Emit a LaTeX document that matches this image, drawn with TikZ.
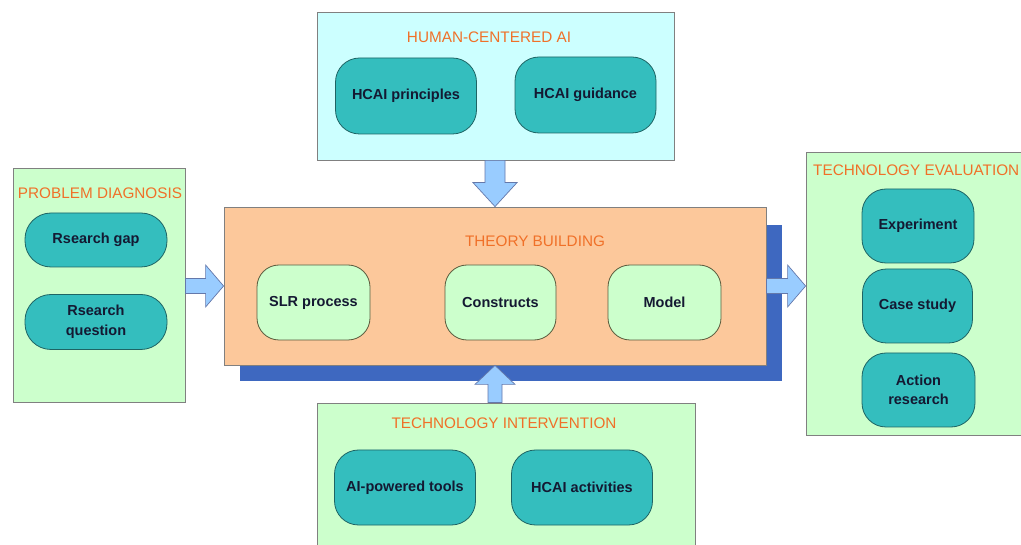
\documentclass[tikz,border=0pt]{standalone}
\usepackage{fontspec}
\setmainfont{Liberation Sans}
\usetikzlibrary{calc}
\definecolor{titleor}{RGB}{240,112,40}
\definecolor{tealfill}{RGB}{52,190,190}
\definecolor{tealline}{RGB}{30,100,100}
\definecolor{lcyan}{RGB}{204,255,255}
\definecolor{lgreen}{RGB}{204,255,204}
\definecolor{peach}{RGB}{252,200,155}
\definecolor{shadowblue}{RGB}{62,104,192}
\definecolor{arrowfill}{RGB}{153,204,255}
\definecolor{arrowline}{RGB}{100,120,170}
\definecolor{boxline}{RGB}{128,128,128}
\definecolor{olive}{RGB}{90,90,60}
\definecolor{nodetext}{RGB}{20,25,50}
\tikzset{
  groupbox/.style={draw=boxline, line width=0.8pt, inner sep=0pt},
  grouptitle/.style={text=titleor, font=\fontsize{15.3}{17}\selectfont, inner sep=0pt},
  tealnode/.style={draw=tealline, fill=tealfill, line width=0.8pt, rounded corners=24pt,
     minimum width=141pt, minimum height=76pt, inner sep=0pt, align=center,
     text=nodetext, font=\bfseries\fontsize{14.5}{19.5}\selectfont},
  greennode/.style={draw=olive, fill=lgreen, line width=0.8pt, rounded corners=22pt,
     minimum width=113pt, minimum height=75pt, inner sep=0pt, align=center,
     text=nodetext, font=\bfseries\fontsize{14.5}{19.5}\selectfont},
  blockarrow/.style={draw=arrowline, fill=arrowfill, line width=0.7pt, line join=miter}
}
\begin{document}
\begin{tikzpicture}[x=1pt,y=-1pt]
\useasboundingbox (0,0) rectangle (1021,545);
\clip (0,0) rectangle (1021,545);
\fill[white] (0,0) rectangle (1021,545);

% Human-centered AI
\node[groupbox, fill=lcyan, minimum width=357pt, minimum height=148pt] (hc) at (495.5,86) {};
\node[grouptitle] (hct) at (489,37) {HUMAN-CENTERED AI};
\node[tealnode] (hcp) at (406,96) {HCAI principles};
\node[tealnode] (hcg) at (585.5,95) {HCAI guidance};

% Problem diagnosis
\node[groupbox, fill=lgreen, minimum width=172pt, minimum height=234pt] (pd) at (99,285) {};
\node[grouptitle] (pdt) at (100,193) {PROBLEM DIAGNOSIS};
\node[tealnode, minimum width=142pt, minimum height=54pt, rounded corners=26pt] (gap) at (96,240) {Rsearch gap};
\node[tealnode, minimum width=142pt, minimum height=55pt, rounded corners=26pt] (q) at (96,322) {Rsearch\\question};

% Theory building
\fill[shadowblue] (240,225) rectangle (782,381);
\node[draw=boxline, fill=peach, line width=0.8pt, minimum width=542pt, minimum height=158pt, inner sep=0pt] (tb) at (495,286) {};
\node[grouptitle] (tbt) at (535,241) {THEORY BUILDING};
\node[greennode] (slr) at (313.5,302.5) {SLR process};
\node[greennode, minimum width=111pt] (con) at (500.5,302.5) {Constructs};
\node[greennode] (mod) at (664.5,302.5) {Model};

% Technology intervention
\node[groupbox, fill=lgreen, minimum width=378pt, minimum height=157pt] (ti) at (506,481.5) {};
\node[grouptitle] (tit) at (504,423) {TECHNOLOGY INTERVENTION};
\node[tealnode, minimum height=75pt] (ai) at (405,487.5) {AI-powered tools};
\node[tealnode, minimum height=75pt] (act) at (582,487.5) {HCAI activities};

% Technology evaluation
\node[groupbox, fill=lgreen, minimum width=229pt, minimum height=283pt] (te) at (920.5,293.5) {};
\node[grouptitle, anchor=west] (tet) at (813,170) {TECHNOLOGY EVALUATION};
\node[tealnode, minimum width=112pt, minimum height=74pt] (exp) at (918,226) {Experiment};
\node[tealnode, minimum width=110pt, minimum height=74pt] (cs) at (917.5,306) {Case study};
\node[tealnode, minimum width=113pt, minimum height=74pt] (ar) at (918.5,390) {Action\\research};

% Block arrows
% left: problem diagnosis -> theory building
\coordinate (la) at (pd.east |- tb.west);
\draw[blockarrow] ($(la)+(0,-7.5)$) -- ($(tb.west)+(-18,-7.5)$) -- ($(tb.west)+(-18,-21)$)
  -- (tb.west) -- ($(tb.west)+(-18,21)$) -- ($(tb.west)+(-18,7.5)$) -- ($(la)+(0,7.5)$) -- cycle;
% right: theory building -> technology evaluation
\coordinate (rb) at (te.west |- tb.east);
\draw[blockarrow] ($(tb.east)+(0,-7.5)$) -- ($(rb)+(-18,-7.5)$) -- ($(rb)+(-18,-21)$)
  -- (rb) -- ($(rb)+(-18,21)$) -- ($(rb)+(-18,7.5)$) -- ($(tb.east)+(0,7.5)$) -- cycle;
% top: human-centered AI -> theory building
\coordinate (tt) at (hc.south -| tb.north);
\draw[blockarrow] ($(tt)+(-10,0)$) -- ($(tb.north)+(-10,-24)$) -- ($(tb.north)+(-22,-24)$)
  -- (tb.north) -- ($(tb.north)+(22,-24)$) -- ($(tb.north)+(10,-24)$) -- ($(tt)+(10,0)$) -- cycle;
% bottom: technology intervention -> theory building
\coordinate (bt) at (tb.south |- ti.north);
\draw[blockarrow] ($(bt)+(-7,0)$) -- ($(tb.south)+(-7,19)$) -- ($(tb.south)+(-20,19)$)
  -- (tb.south) -- ($(tb.south)+(20,19)$) -- ($(tb.south)+(7,19)$) -- ($(bt)+(7,0)$) -- cycle;
\end{tikzpicture}
\end{document}
